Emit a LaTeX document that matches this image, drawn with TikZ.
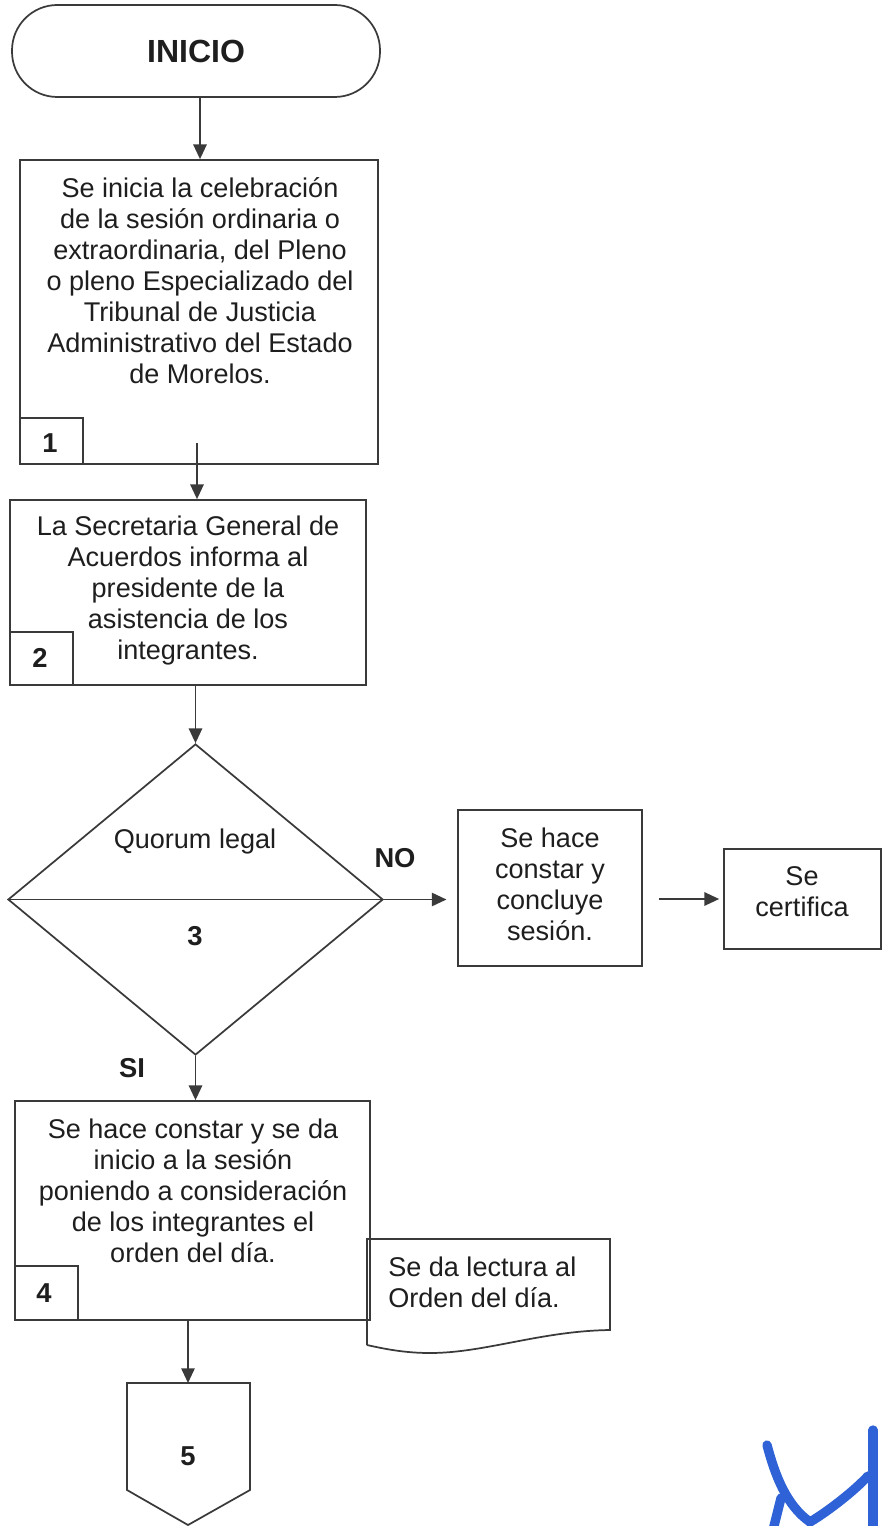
\documentclass[tikz,border=0pt]{standalone}
\usepackage{fontspec}
\setmainfont{Liberation Sans}
\usetikzlibrary{shapes.geometric,fit,arrows.meta}
\definecolor{ln}{HTML}{3A3A3A}
\definecolor{tx}{HTML}{1E1E1E}
\definecolor{sig}{HTML}{2E62D6}
\begin{document}
\begin{tikzpicture}[x=0.75pt,y=-0.75pt,
  box/.style={draw=ln, line width=1.3pt, inner sep=0pt},
  txt/.style={text=tx, font=\fontsize{20.3pt}{23.25pt}\selectfont, align=center, inner sep=0pt},
  bold/.style={text=tx, font=\fontsize{20.5pt}{24pt}\selectfont\bfseries, inner sep=0pt},
  arr/.style={draw=ln, line width=1.3pt, -{Triangle[length=11pt,width=10pt]}},
  sigline/.style={sig, line width=7pt, line cap=round}]
\useasboundingbox (0,0) rectangle (884,1526);

% INICIO
\node[box, fit={(12,5) (380,97)}, rounded corners=34pt] (inicio) {};
\node[text=tx, font=\fontsize{24pt}{28pt}\selectfont\bfseries, inner sep=0pt] (tinicio) at (196,51) {INICIO};

% Box 1
\node[box, fit={(20,160) (378,464)}] (b1) {};
\node[box, fit={(20,418) (83,464)}] (l1) {};
\node[bold] (n1) at (50,443) {1};
\node[txt] (t1) at (200,281) {Se inicia la celebración\\de la sesión ordinaria o\\extraordinaria, del Pleno\\o pleno Especializado del\\Tribunal de Justicia\\Administrativo del Estado\\de Morelos.};

% Box 2
\node[box, fit={(10,500) (366,685)}] (b2) {};
\node[box, fit={(10,632) (73,685)}] (l2) {};
\node[bold] (n2) at (40,658) {2};
\node[txt] (t2) at (188,590) {La Secretaria General de\\Acuerdos informa al\\presidente de la\\asistencia de los\\integrantes.};

% Decision
\node[box, diamond, minimum width=281.25pt, minimum height=233.25pt] (dia) at (195.5,899.5) {};
\draw[draw=ln, line width=1.3pt] (dia.west) -- (dia.east);
\node[txt] (tq) at (195,841) {Quorum legal};
\node[bold] (n3) at (195,936) {3};
\node[bold] (no) at (395,858) {NO};
\node[bold] (si) at (132,1068) {SI};

% NO branch
\node[box, fit={(458,810) (642,966)}] (bno) {};
\node[txt] (tno) at (550,884) {Se hace\\constar y\\concluye\\sesión.};
\node[box, fit={(724,849) (881,949)}] (cert) {};
\node[txt] (tcert) at (802,892) {Se\\certifica};

% Box 4
\node[box, fit={(15,1101) (370,1320)}] (b4) {};
\node[box, fit={(15,1266) (78,1320)}] (l4) {};
\node[bold] (n4) at (44,1293) {4};
\node[txt] (t4) at (193,1191) {Se hace constar y se da\\inicio a la sesión\\poniendo a consideración\\de los integrantes el\\orden del día.};

% Document
\coordinate (dtl) at (367,1239);
\coordinate (dtr) at (610,1239);
\coordinate (dbr) at (610,1330);
\coordinate (dbl) at (367,1345);
\draw[draw=ln, line width=1.3pt] (dbl) -- (dtl) -- (dtr) -- (dbr)
  .. controls (540,1331) and (485,1353) .. (430,1353)
  .. controls (405,1353) and (385,1349) .. (dbl);
\node[txt, align=left, anchor=west] (tdoc) at (388,1282) {Se da lectura al\\Orden del día.};

% Off-page connector
\coordinate (off) at (188,1383);
\draw[draw=ln, line width=1.3pt] (127,1383) -- (250,1383) -- (250,1490) -- (188,1525) -- (127,1490) -- cycle;
\node[bold] (n5) at (188,1456) {5};

% Connectors
\draw[arr] (inicio.south -| 200,0) -- (b1.north -| 200,0);
\coordinate (s12) at (197,443);
\draw[arr] (s12) -- (s12 |- b2.north);
\draw[arr] (dia.north |- b2.south) -- (dia.north);
\draw[arr, shorten >=8pt] (dia.east) -- (bno.west |- dia.east);
\draw[arr, shorten <=12pt, shorten >=3pt] (bno.east |- cert.west) -- (cert.west);
\draw[arr] (dia.south) -- (dia.south |- b4.north);
\draw[arr] (off |- b4.south) -- (off);

% Signature
\draw[sigline] (767,1445) .. controls (775,1475) and (786,1505) .. (810,1522) .. controls (830,1510) and (855,1490) .. (868,1476);
\draw[sigline] (781,1498) -- (773,1530);
\draw[sigline] (873,1430) -- (873,1530);
\end{tikzpicture}
\end{document}
